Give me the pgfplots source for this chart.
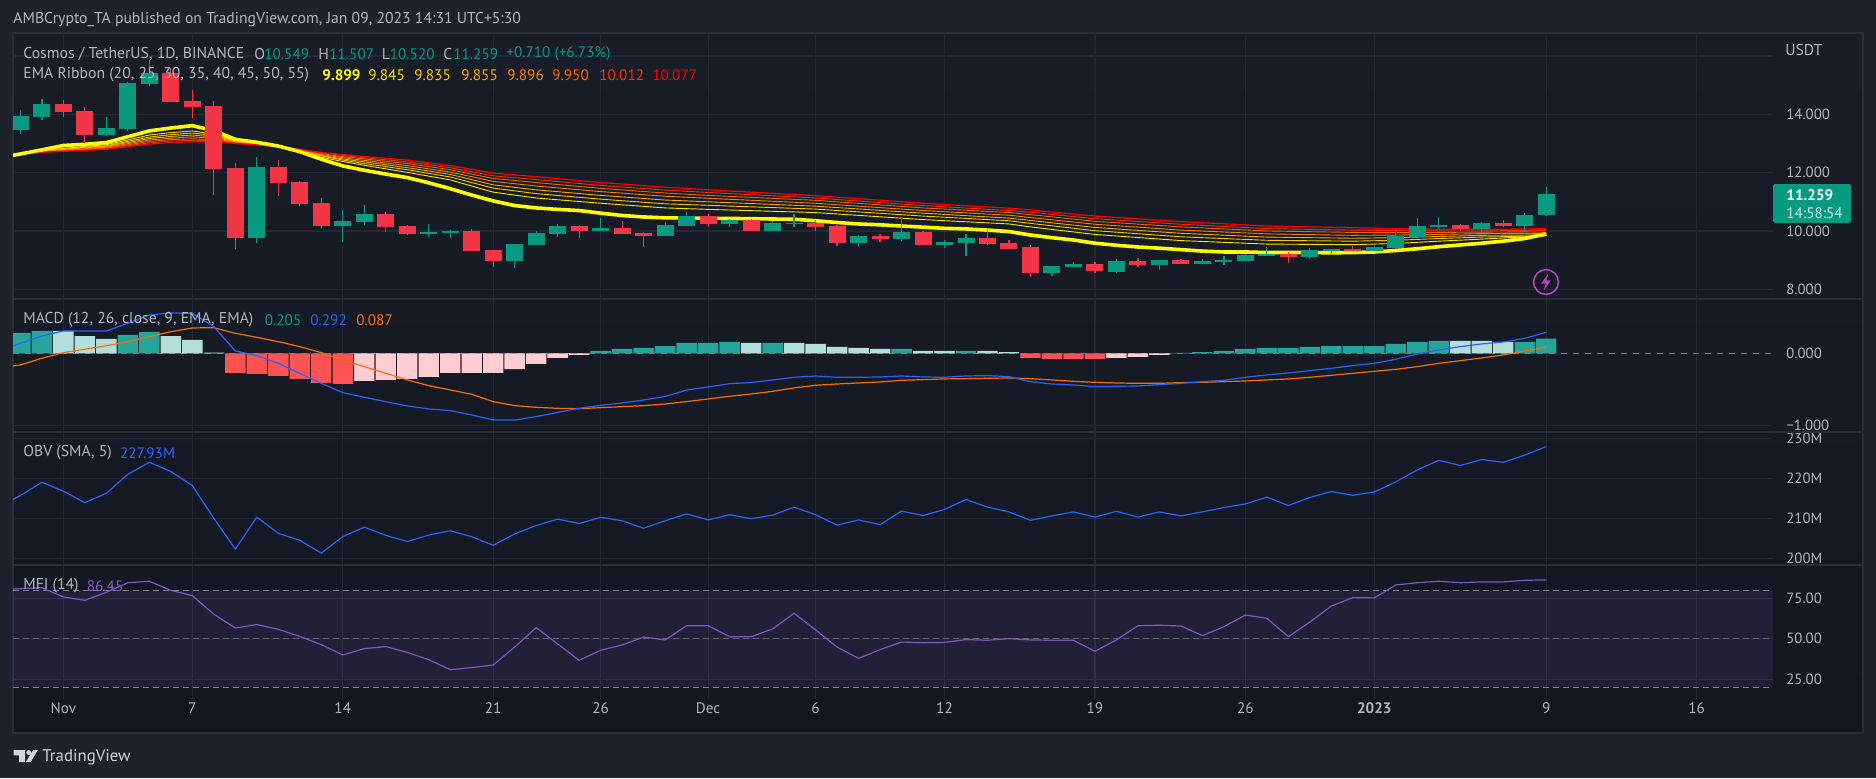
\documentclass[border=0pt]{standalone}
\usepackage{fontspec}
\setmainfont{PT Sans}
\usepackage{pgfplots}
\usepackage{pgfplotstable}
\pgfplotsset{compat=1.18}

\definecolor{pagebg}{HTML}{1E222D}
\definecolor{panetop}{HTML}{191D28}
\definecolor{panebot}{HTML}{131722}
\definecolor{gridc}{HTML}{242832}
\definecolor{sepc}{HTML}{2A2E39}
\definecolor{txt}{HTML}{B2B5BE}
\definecolor{up}{HTML}{089981}
\definecolor{down}{HTML}{F23645}
\definecolor{histup}{HTML}{26A69A}
\definecolor{histuplight}{HTML}{B2DFDB}
\definecolor{histdown}{HTML}{FF5252}
\definecolor{histdownlight}{HTML}{FFCDD2}
\definecolor{macdblue}{HTML}{2962FF}
\definecolor{macdorange}{HTML}{FF6D00}
\definecolor{mfipurple}{HTML}{7E57C2}
\definecolor{emaA}{HTML}{FFFF00}
\definecolor{emaB}{HTML}{FFE600}
\definecolor{emaC}{HTML}{FFC800}
\definecolor{emaD}{HTML}{FFA800}
\definecolor{emaE}{HTML}{FF8000}
\definecolor{emaF}{HTML}{FF6000}
\definecolor{emaG}{HTML}{FF3000}
\definecolor{emaH}{HTML}{FF0000}
\definecolor{logoc}{HTML}{D1D4DC}
\definecolor{boltc}{HTML}{AB47BC}

% days counted from Nov 1 = 0
% d  bot  top  low  high
\pgfplotstableread{
d bot top low high
-2 13.47 13.94 13.33 14.14
-1 13.91 14.35 13.82 14.53
2 13.29 13.53 13.27 13.90
3 13.50 15.07 13.44 15.10
4 15.05 15.41 14.98 15.86
9 9.76 12.19 9.59 12.54
13 10.17 10.34 9.62 10.72
14 10.31 10.58 10.21 10.89
17 9.90 9.97 9.79 10.24
18 9.93 10.00 9.76 10.03
21 8.97 9.55 8.73 9.55
22 9.52 9.93 9.52 10.00
23 9.90 10.17 9.79 10.24
25 10.00 10.10 10.00 10.45
28 9.83 10.21 9.83 10.31
29 10.17 10.51 10.17 10.65
31 10.24 10.38 10.14 10.41
33 10.00 10.27 10.00 10.34
34 10.24 10.27 10.14 10.58
37 9.59 9.83 9.49 9.86
39 9.73 9.97 9.66 10.48
41 9.52 9.62 9.42 9.69
42 9.59 9.76 9.14 9.90
46 8.56 8.80 8.46 8.80
47 8.77 8.87 8.77 8.94
49 8.59 8.97 8.56 9.04
51 8.83 9.01 8.66 9.01
53 8.87 8.97 8.87 9.04
54 8.94 9.01 8.83 9.14
55 8.97 9.18 8.97 9.21
56 9.14 9.21 9.14 9.45
58 9.11 9.35 9.04 9.42
59 9.31 9.38 9.21 9.38
61 9.31 9.45 9.31 9.49
62 9.42 9.83 9.38 10.07
63 9.79 10.17 9.76 10.45
64 10.14 10.21 10.07 10.48
66 10.07 10.27 9.93 10.31
68 10.17 10.55 9.97 10.62
69 10.549 11.259 10.520 11.507
}\candlesup

\pgfplotstableread{
d bot top low high
0 14.08 14.35 13.89 14.49
1 13.29 14.11 13.06 14.24
5 14.42 15.41 14.42 15.60
6 14.25 14.46 13.87 14.83
7 12.13 14.29 11.23 14.46
8 9.76 12.16 9.38 12.32
10 11.65 12.19 11.21 12.43
11 10.93 11.68 10.86 11.71
12 10.17 10.96 10.07 11.13
15 10.14 10.58 9.97 10.65
16 9.90 10.17 9.86 10.20
19 9.31 10.00 9.31 10.07
20 8.97 9.35 8.77 9.35
24 10.00 10.17 9.76 10.20
26 9.90 10.10 9.90 10.34
27 9.83 9.93 9.45 9.97
30 10.24 10.51 10.14 10.58
32 10.00 10.38 10.00 10.41
35 10.14 10.27 10.00 10.38
36 9.59 10.17 9.49 10.21
38 9.73 9.83 9.62 9.90
40 9.52 9.97 9.52 10.00
43 9.55 9.76 9.52 10.03
44 9.38 9.59 9.38 9.69
45 8.56 9.45 8.42 9.52
48 8.63 8.87 8.56 8.94
50 8.83 8.97 8.77 9.07
52 8.87 9.01 8.87 9.04
57 9.11 9.21 8.90 9.28
60 9.31 9.38 9.31 9.49
65 10.07 10.21 10.00 10.24
67 10.17 10.27 10.14 10.38
}\candlesdown

% EMA 25 to 55 on a coarser set of days
\pgfplotstableread{
d e25 e30 e35 e40 e45 e50 e55
-3 12.53 12.55 12.56 12.57 12.58 12.59 12.60
-1 12.754 12.743 12.734 12.724 12.715 12.708 12.70
1 12.90 12.87 12.85 12.82 12.80 12.78 12.76
2 12.96 12.92 12.90 12.87 12.84 12.82 12.80
3 13.12 13.07 13.03 12.99 12.95 12.92 12.89
4 13.29 13.22 13.17 13.12 13.07 13.02 12.98
5 13.37 13.30 13.24 13.18 13.13 13.08 13.03
6 13.43 13.36 13.29 13.23 13.16 13.11 13.06
7 13.32 13.27 13.22 13.17 13.13 13.10 13.06
8 13.10 13.08 13.06 13.04 13.03 13.01 13.00
9 13.01 13.00 12.99 12.98 12.97 12.96 12.95
10 12.90 12.90 12.90 12.90 12.89 12.89 12.89
11 12.75 12.76 12.77 12.78 12.78 12.79 12.80
12 12.53 12.57 12.59 12.62 12.65 12.67 12.69
13 12.38 12.43 12.47 12.51 12.55 12.59 12.62
14 12.25 12.31 12.37 12.42 12.47 12.51 12.55
16 12.01 12.10 12.17 12.24 12.31 12.37 12.43
18 11.75 11.85 11.94 12.02 12.10 12.17 12.24
20 11.33 11.47 11.58 11.70 11.80 11.89 11.98
22 11.13 11.28 11.41 11.54 11.66 11.76 11.86
25 10.95 11.09 11.22 11.35 11.46 11.56 11.66
28 10.79 10.93 11.06 11.19 11.30 11.40 11.50
30 10.74 10.88 11.00 11.12 11.22 11.32 11.41
35 10.63 10.75 10.85 10.95 11.05 11.13 11.21
40 10.39 10.51 10.61 10.70 10.79 10.87 10.95
44 10.24 10.35 10.44 10.54 10.63 10.70 10.78
45 10.14 10.26 10.36 10.46 10.56 10.64 10.72
48 9.88 10.01 10.12 10.23 10.33 10.42 10.51
52 9.67 9.80 9.92 10.03 10.14 10.23 10.32
56 9.55 9.68 9.79 9.90 10.00 10.08 10.17
60 9.53 9.65 9.75 9.85 9.95 10.03 10.11
62 9.57 9.68 9.77 9.86 9.94 10.01 10.08
64 9.65 9.74 9.81 9.88 9.95 10.00 10.06
66 9.72 9.79 9.85 9.91 9.96 10.00 10.05
68 9.80 9.82 9.86 9.92 9.97 10.02 10.07
69 9.845 9.835 9.855 9.896 9.950 10.012 10.077
}\ribbon

\pgfplotstableread{
d v
-2 0.282
-1 0.31
3 0.255
4 0.296
25 0.032
26 0.06
27 0.074
28 0.10
29 0.144
30 0.144
31 0.157
33 0.144
39 0.06
42 0.032
52 0.005
53 0.018
54 0.032
55 0.06
56 0.074
57 0.074
58 0.088
59 0.10
60 0.10
61 0.10
62 0.13
63 0.157
64 0.171
68 0.157
69 0.205
}\histA
\pgfplotstableread{
d v
0 0.31
1 0.24
2 0.20
5 0.24
6 0.185
7 0.01
32 0.144
34 0.144
35 0.13
36 0.088
37 0.074
38 0.06
40 0.032
41 0.032
43 0.032
44 0.018
65 0.171
66 0.171
67 0.157
}\histB
\pgfplotstableread{
d v
8 -0.273
9 -0.287
10 -0.315
11 -0.356
12 -0.412
13 -0.426
45 -0.065
46 -0.079
47 -0.079
48 -0.079
}\histC
\pgfplotstableread{
d v
14 -0.384
15 -0.37
16 -0.356
17 -0.329
18 -0.273
19 -0.273
20 -0.273
21 -0.218
22 -0.148
23 -0.065
24 -0.023
49 -0.065
50 -0.05
51 -0.023
}\histD

\newcommand{\lab}[4]{\node[anchor=west,inner sep=0pt,text=#3] at (#1*0.5pt,-#2*0.5pt) {#4};}
\newcommand{\numfont}{\fontsize{7.6}{9}\selectfont}
\newcommand{\wordfont}{\fontsize{7.85}{9}\selectfont}

\pgfplotsset{
  pane/.style={
    scale only axis, width=880pt,
    xmin=-2.345, xmax=79.55,
    xtick={0,6,13,20,25,30,35,41,48,55,61,69,76},
    xticklabels={},
    xmajorgrids, ymajorgrids,
    grid style={gridc, line width=0.6pt},
    major tick length=0pt,
    axis line style={draw=none},
    yticklabel pos=right,
    yticklabel style={anchor=west, inner sep=0pt, xshift=6.5pt, text=txt, font=\fontsize{7.4}{9}\selectfont},
    xticklabel style={text=txt, font=\numfont},
  },
  wick/.style={draw=none, mark=none, forget plot,
    error bars/.cd, y dir=plus, y explicit, error mark=none,
    error bar style={draw=#1, line width=0.6pt, solid}},
  body/.style={draw=none, mark=none, forget plot,
    error bars/.cd, y dir=plus, y explicit, error mark=none,
    error bar style={draw=#1, line width=8.5pt, solid}},
  hist/.style={ybar, bar shift=0pt, bar width=0.95, fill=#1, draw=none, forget plot},
}

\begin{document}
\begin{tikzpicture}
\fill[pagebg] (0pt,0pt) rectangle (938pt,-389pt);
\shade[top color=panetop, bottom color=panebot] (6.5pt,-16.5pt) rectangle (931.5pt,-366.5pt);
\draw[sepc, line width=1pt] (6.5pt,-16.5pt) rectangle (931.5pt,-366.5pt);

% price
\begin{axis}[pane, at={(6.5pt,-149.5pt)}, anchor=south west, height=133pt,
  ymin=7.667, ymax=16.786,
  ytick={8,10,12,14,16}, yticklabels={8.000,10.000,12.000,14.000,}]
\addplot[emaB, line width=0.45pt, line join=round] table[x=d,y=e25] {\ribbon};
\addplot[emaC, line width=0.45pt, line join=round] table[x=d,y=e30] {\ribbon};
\addplot[emaD, line width=0.45pt, line join=round] table[x=d,y=e35] {\ribbon};
\addplot[emaE, line width=0.45pt, line join=round] table[x=d,y=e40] {\ribbon};
\addplot[emaF, line width=0.45pt, line join=round] table[x=d,y=e45] {\ribbon};
\addplot[emaG, line width=0.45pt, line join=round] table[x=d,y=e50] {\ribbon};
\addplot[emaH, line width=0.6pt, line join=round] table[x=d,y=e55] {\ribbon};
\addplot[emaA, line width=1.8pt, line join=round] coordinates {
(-3,12.50) (-1,12.78) (0,12.93) (1,12.97) (2,13.03) (3,13.23) (4,13.43) (5,13.53) (6,13.61) (7,13.44)
(8,13.14) (9,13.04) (10,12.91) (11,12.72) (12,12.46) (13,12.23) (14,12.08) (15,11.95) (16,11.83) (17,11.65)
(18,11.45) (19,11.23) (20,11.03) (21,10.87) (22,10.79) (23,10.74) (24,10.70) (25,10.61) (26,10.53) (27,10.48)
(28,10.45) (29,10.45) (30,10.43) (31,10.43) (32,10.42) (33,10.41) (34,10.40) (35,10.35) (36,10.29) (37,10.24)
(38,10.21) (39,10.17) (40,10.13) (41,10.09) (42,10.07) (43,10.03) (44,9.98) (45,9.86) (46,9.77) (47,9.69)
(48,9.58) (49,9.51) (50,9.45) (51,9.41) (52,9.36) (53,9.31) (54,9.28) (55,9.28) (56,9.26) (57,9.26)
(58,9.26) (59,9.25) (60,9.26) (61,9.28) (62,9.33) (63,9.39) (64,9.46) (65,9.52) (66,9.58) (67,9.65)
(68,9.74) (69,9.899)};
\addplot[wick=up] table[x=d,y=low,y error plus expr=\thisrow{high}-\thisrow{low}] {\candlesup};
\addplot[wick=down] table[x=d,y=low,y error plus expr=\thisrow{high}-\thisrow{low}] {\candlesdown};
\addplot[body=up] table[x=d,y=bot,y error plus expr=\thisrow{top}-\thisrow{bot}] {\candlesup};
\addplot[body=down] table[x=d,y=bot,y error plus expr=\thisrow{top}-\thisrow{bot}] {\candlesdown};
\end{axis}

% MACD
\begin{axis}[pane, at={(6.5pt,-216pt)}, anchor=south west, height=66.5pt,
  ymin=-1.093, ymax=0.754,
  ytick={-1,0}, yticklabels={−1.000,0.000}]
\addplot[txt!60!panebot, line width=0.6pt, dashed, forget plot] coordinates {(-2.345,0) (79.55,0)};
\addplot[hist=histup] table[x=d,y=v] {\histA};
\addplot[hist=histuplight] table[x=d,y=v] {\histB};
\addplot[hist=histdown] table[x=d,y=v] {\histC};
\addplot[hist=histdownlight] table[x=d,y=v] {\histD};
\addplot[macdorange, line width=0.6pt] coordinates {
(-3,-0.205) (-2,-0.162) (-1,-0.069) (0,0.01) (1,0.056) (2,0.106) (3,0.162) (4,0.231) (5,0.30) (6,0.352) (7,0.356)
(8,0.278) (9,0.222) (10,0.162) (11,0.093) (12,0.009) (13,-0.093) (14,-0.185) (15,-0.278) (16,-0.37) (17,-0.449)
(18,-0.509) (19,-0.569) (20,-0.671) (21,-0.727) (22,-0.75) (23,-0.764) (24,-0.769) (25,-0.755) (26,-0.741) (27,-0.727)
(28,-0.704) (29,-0.671) (30,-0.634) (31,-0.597) (32,-0.565) (33,-0.528) (34,-0.481) (35,-0.444) (36,-0.426) (37,-0.412)
(38,-0.398) (39,-0.375) (40,-0.366) (41,-0.356) (42,-0.352) (43,-0.347) (44,-0.343) (45,-0.352) (46,-0.37) (47,-0.389)
(48,-0.403) (49,-0.412) (50,-0.417) (51,-0.417) (52,-0.407) (53,-0.403) (54,-0.394) (55,-0.384) (56,-0.37) (57,-0.356)
(58,-0.333) (59,-0.306) (60,-0.278) (61,-0.25) (62,-0.222) (63,-0.185) (64,-0.139) (65,-0.102) (66,-0.065) (67,-0.023)
(68,0.032) (69,0.087)};
\addplot[macdblue, line width=0.6pt] coordinates {
(-3,0.03) (-2,0.14) (-1,0.24) (0,0.31) (1,0.31) (2,0.31) (3,0.417) (4,0.532) (5,0.56) (6,0.556) (7,0.37)
(8,0.032) (9,-0.032) (10,-0.139) (11,-0.278) (12,-0.417) (13,-0.546) (14,-0.611) (15,-0.671) (16,-0.731) (17,-0.773)
(18,-0.796) (19,-0.856) (20,-0.926) (21,-0.926) (22,-0.88) (23,-0.82) (24,-0.764) (25,-0.722) (26,-0.69) (27,-0.648)
(28,-0.60) (29,-0.51) (30,-0.468) (31,-0.421) (32,-0.407) (33,-0.37) (34,-0.333) (35,-0.315) (36,-0.333) (37,-0.333)
(38,-0.329) (39,-0.315) (40,-0.329) (41,-0.333) (42,-0.315) (43,-0.31) (44,-0.324) (45,-0.394) (46,-0.426) (47,-0.44)
(48,-0.463) (49,-0.458) (50,-0.454) (51,-0.435) (52,-0.417) (53,-0.394) (54,-0.375) (55,-0.333) (56,-0.30) (57,-0.273)
(58,-0.24) (59,-0.208) (60,-0.171) (61,-0.139) (62,-0.083) (63,-0.009) (64,0.046) (65,0.093) (66,0.13) (67,0.157)
(68,0.208) (69,0.292)};
\end{axis}

% OBV
\begin{axis}[pane, at={(6.5pt,-282.5pt)}, anchor=south west, height=66.5pt,
  ymin=198.325, ymax=231.575,
  ytick={200,210,220,230}, yticklabels={200M,210M,220M,230M}]
\addplot[macdblue, line width=0.6pt] coordinates {
(-3,213) (-2,215.7) (-1,219) (0,216.8) (1,213.9) (2,216.25) (3,221) (4,224) (5,221.7) (6,218.2) (7,210)
(8,202.3) (9,210.3) (10,206.25) (11,204.5) (12,201.3) (13,205.4) (14,207.8) (15,205.75) (16,204.2) (17,205.8)
(18,206.9) (19,205.4) (20,203.25) (21,206.1) (22,208.2) (23,209.8) (24,208.7) (25,210.25) (26,209.4) (27,207.5)
(28,209.4) (29,211.1) (30,209.6) (31,210.9) (32,209.9) (33,210.8) (34,212.8) (35,210.9) (36,208.3) (37,209.6)
(38,208.4) (39,211.8) (40,210.7) (41,212.2) (42,214.7) (43,212.8) (44,211.6) (45,209.5) (46,210.6) (47,211.6)
(48,210.3) (49,211.75) (50,210.3) (51,211.6) (52,210.6) (53,211.6) (54,212.7) (55,213.6) (56,215.3) (57,213.2)
(58,215.2) (59,216.7) (60,215.75) (61,216.6) (62,219.1) (63,222.1) (64,224.5) (65,223.2) (66,224.7) (67,224)
(68,225.8) (69,227.93)};
\end{axis}

% MFI
\begin{axis}[pane, at={(6.5pt,-349.5pt)}, anchor=south west, height=67pt,
  ymin=12.76, ymax=95.65,
  ytick={25,50,75}, yticklabels={25.00,50.00,75.00},
  xticklabels={Nov,7,14,21,26,Dec,6,12,19,26,\textbf{2023},9,16},
  xticklabel style={yshift=-4.5pt, inner sep=0pt, anchor=center}]
\addplot[draw=none, fill=mfipurple, fill opacity=0.13, forget plot] coordinates {(-2.345,20) (79.55,20) (79.55,80) (-2.345,80)} \closedcycle;
\addplot[txt!65!panebot, line width=0.6pt, dash pattern=on 3pt off 2pt, forget plot] coordinates {(-2.345,80) (79.55,80)};
\addplot[txt!50!panebot, line width=0.6pt, dash pattern=on 3pt off 2pt, forget plot] coordinates {(-2.345,50) (79.55,50)};
\addplot[txt!65!panebot, line width=0.6pt, dash pattern=on 3pt off 2pt, forget plot] coordinates {(-2.345,20) (79.55,20)};
\addplot[mfipurple, line width=0.6pt] coordinates {
(-3,80) (-2,81) (-1,81.6) (0,75.9) (1,73.8) (2,78.8) (3,84.7) (4,85.6) (5,80) (6,76.7) (7,65.2)
(8,56.7) (9,58.8) (10,55.9) (11,51.5) (12,46.4) (13,40) (14,43.9) (15,45.2) (16,41.6) (17,37.1)
(18,30.9) (19,32.2) (20,33.8) (21,44.9) (22,56.9) (23,46.8) (24,36.7) (25,42.9) (26,46.2) (27,51.1)
(28,49.3) (29,58.1) (30,58.1) (31,51.3) (32,51.3) (33,56.1) (34,65.8) (35,55.5) (36,44.9) (37,37.9)
(38,43.3) (39,48) (40,47.6) (41,47.8) (42,49.5) (43,49.1) (44,50.1) (45,49.3) (46,49.1) (47,49.1)
(48,42.3) (49,49.3) (50,58.1) (51,58.4) (52,57.9) (53,52) (54,57.5) (55,64.7) (56,62.7) (57,51.3)
(58,60.4) (59,70.3) (60,75.5) (61,75.3) (62,83.3) (63,84.7) (64,85.6) (65,84.7) (66,85.2) (67,85.2)
(68,86.2) (69,86.45)};
\end{axis}

% pane separators
\draw[sepc, line width=0.8pt] (6.5pt,-149.5pt) -- (931.5pt,-149.5pt);
\draw[sepc, line width=0.8pt] (6.5pt,-216pt) -- (931.5pt,-216pt);
\draw[sepc, line width=0.8pt] (6.5pt,-282.5pt) -- (931.5pt,-282.5pt);

\begin{scope}[font=\wordfont]
\lab{13}{20}{txt}{AMBCrypto\_TA published on TradingView.com, Jan 09, 2023 14:31 UTC+5:30}
\lab{23}{54}{txt}{Cosmos / TetherUS, 1D, BINANCE}
\lab{254}{54}{txt}{O}
\lab{318}{54}{txt}{H}
\lab{381.5}{54}{txt}{L}
\lab{443}{54}{txt}{C}
\lab{23}{75}{txt}{EMA Ribbon (20, 25, 30, 35, 40, 45, 50, 55)}
\lab{23}{320}{txt}{MACD (12, 26, close, 9, EMA, EMA)}
\lab{23}{452.7}{txt}{OBV (SMA, 5)}
\lab{23}{585.7}{txt}{MFI (14)}
\lab{1785}{50}{txt}{USDT}
\end{scope}
\begin{scope}[font=\numfont]
\lab{264}{54}{up}{10.549}
\lab{329}{54}{up}{11.507}
\lab{389.5}{54}{up}{10.520}
\lab{453}{54}{up}{11.259}
\lab{506}{54}{up}{+0.710 (+6.73\%)}
\lab{322}{75}{emaA}{\textbf{9.899}}
\lab{368}{75}{emaB}{9.845}
\lab{414}{75}{emaC}{9.835}
\lab{461}{75}{emaD}{9.855}
\lab{507}{75}{emaE}{9.896}
\lab{552}{75}{emaF}{9.950}
\lab{599}{75}{emaG}{10.012}
\lab{652}{75}{emaH}{10.077}
\lab{264.5}{320}{up}{0.205}
\lab{310}{320}{macdblue}{0.292}
\lab{356}{320}{macdorange}{0.087}
\lab{119.6}{452.7}{macdblue}{227.93M}
\lab{86.5}{585.7}{mfipurple}{86.45}
\end{scope}

% last price tag
\fill[up, rounded corners=0.8pt] (886.5pt,-92pt) rectangle (925.5pt,-111.4pt);
\begin{scope}[font=\numfont]
\lab{1786}{195}{white}{\textbf{11.259}}
\lab{1786}{212.7}{white!80!up}{14:58:54}
\end{scope}

% lightning icon
\draw[boltc, line width=0.8pt] (773pt,-141pt) circle (6.2pt);
\fill[boltc] (774.2pt,-136.6pt) -- (770.6pt,-141.8pt) -- (772.8pt,-141.8pt) -- (771.8pt,-145.4pt) -- (775.4pt,-140.2pt) -- (773.2pt,-140.2pt) -- cycle;

% logo
\fill[logoc] (6.8pt,-375pt) -- (12.5pt,-375pt) -- (12.5pt,-381pt) -- (9.6pt,-381pt) -- (9.6pt,-377.7pt) -- (6.8pt,-377.7pt) -- cycle;
\fill[logoc] (14.4pt,-376.3pt) circle (1.25pt);
\fill[logoc] (16.6pt,-375pt) -- (18.9pt,-375pt) -- (15.3pt,-381pt) -- (12.9pt,-381pt) -- cycle;
\begin{scope}[font=\fontsize{8.4}{10}\selectfont]
\lab{42}{757}{logoc}{TradingView}
\end{scope}
\end{tikzpicture}
\end{document}
